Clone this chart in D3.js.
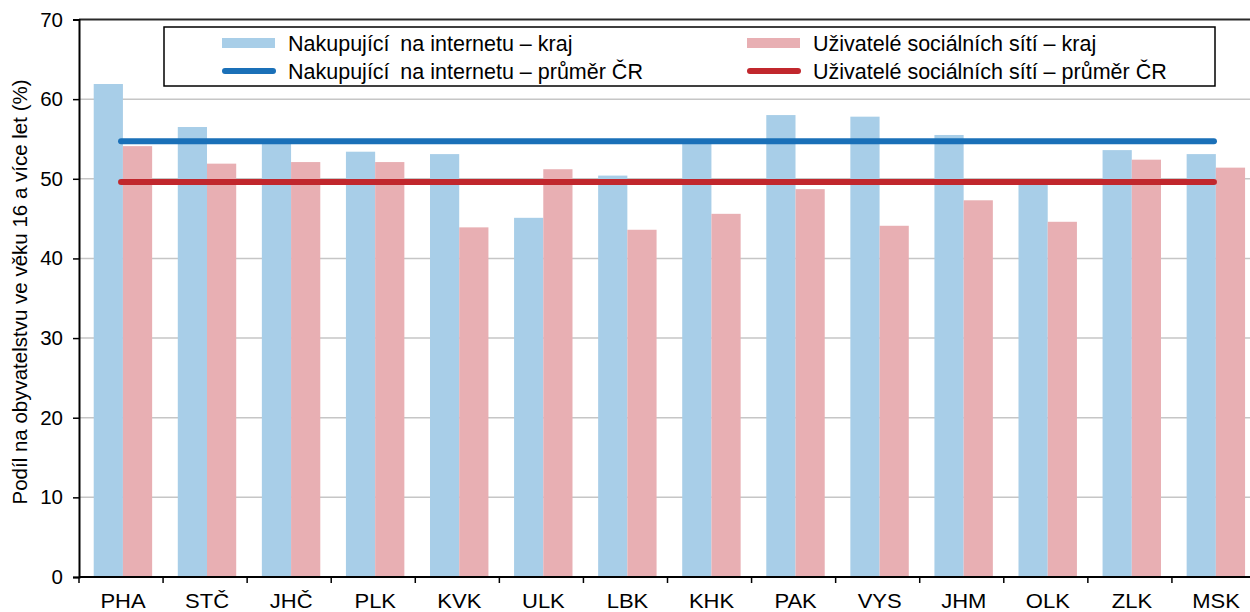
<!DOCTYPE html>
<html>
<head>
<meta charset="utf-8">
<script src="https://cdn.jsdelivr.net/npm/d3@7"></script>
<style>
  html, body { margin: 0; padding: 0; background: #fff; }
  svg { display: block; font-family: "Liberation Sans", Arial, sans-serif; }
</style>
</head>
<body>
<div id="chart"></div>
<script>
// regions (kraje) and values
var regions = ["PHA", "STČ", "JHČ", "PLK", "KVK", "ULK", "LBK", "KHK", "PAK", "VYS", "JHM", "OLK", "ZLK", "MSK"];
var shoppers = [61.9, 56.5, 54.5, 53.4, 53.1, 45.1, 50.4, 54.6, 58.0, 57.8, 55.5, 49.7, 53.6, 53.1];
var socialUsers = [54.1, 51.9, 52.1, 52.1, 43.9, 51.2, 43.6, 45.6, 48.7, 44.1, 47.3, 44.6, 52.4, 51.4];
var shoppersAvg = 54.7;
var socialAvg = 49.6;
var yTicks = [0, 10, 20, 30, 40, 50, 60, 70];
var seriesNames = ["Nakupující\u2002na internetu – kraj", "Uživatelé sociálních sítí – kraj"];
var avgNames = ["Nakupující\u2002na internetu – průměr ČR", "Uživatelé sociálních sítí – průměr ČR"];
var yTitle = "Podíl na obyvatelstvu ve věku 16 a více let (%)";

var width = 1250, height = 612;
var margin = {top: 19.5, left: 79, bottom: 35};
var plotRight = 1256; // the plot runs a little past the picture's right edge

var blueBar = "#a8cee8", pinkBar = "#e8afb3";
var blueLine = "#1a70b8", redLine = "#c1272d";

var svg = d3.select("#chart")
  .append("svg")
  .attr("width", width)
  .attr("height", height);

var x = d3.scaleBand()
  .domain(regions)
  .range([margin.left, plotRight])
  .padding(0);

// two bars per region, nudged slightly left inside the band like the original
var xSeries = d3.scaleBand()
  .domain([0, 1])
  .range([x.bandwidth() * 0.175, x.bandwidth() * 0.87]);

var y = d3.scaleLinear()
  .domain([0, 70])
  .range([height - margin.bottom, margin.top]);

// gridlines
svg.append("g")
  .selectAll("line")
  .data(yTicks.filter(function (d) { return d > 0; }))
  .enter()
  .append("line")
  .attr("x1", margin.left)
  .attr("x2", width)
  .attr("y1", function (d) { return y(d); })
  .attr("y2", function (d) { return y(d); })
  .attr("stroke", function (d) { return d === 70 ? "#2a2a2a" : "#c6c6c6"; })
  .attr("stroke-width", function (d) { return d === 70 ? 2 : 1.5; });

// bars
var groups = svg.append("g")
  .selectAll("g")
  .data(regions)
  .enter()
  .append("g")
  .attr("transform", function (d) { return "translate(" + x(d) + ",0)"; });

groups.append("rect")
  .attr("x", xSeries(0))
  .attr("width", xSeries.bandwidth())
  .attr("y", function (d, i) { return y(shoppers[i]); })
  .attr("height", function (d, i) { return y(0) - y(shoppers[i]); })
  .attr("fill", blueBar);

groups.append("rect")
  .attr("x", xSeries(1))
  .attr("width", xSeries.bandwidth())
  .attr("y", function (d, i) { return y(socialUsers[i]); })
  .attr("height", function (d, i) { return y(0) - y(socialUsers[i]); })
  .attr("fill", pinkBar);

// average lines, from the first region centre to the last
var firstC = x(regions[0]) + x.bandwidth() / 2;
var lastC = x(regions[regions.length - 1]) + x.bandwidth() / 2;

[[shoppersAvg, blueLine], [socialAvg, redLine]].forEach(function (a) {
  svg.append("line")
    .attr("x1", firstC)
    .attr("x2", lastC)
    .attr("y1", y(a[0]))
    .attr("y2", y(a[0]))
    .attr("stroke", a[1])
    .attr("stroke-width", 6)
    .attr("stroke-linecap", "round");
});

// y axis
var yAxis = svg.append("g")
  .attr("transform", "translate(" + margin.left + ",0)")
  .call(d3.axisLeft(y).tickValues(yTicks).tickSize(6).tickPadding(10));
yAxis.select(".domain").attr("stroke", "#000").attr("stroke-width", 2);
yAxis.selectAll(".tick line").attr("stroke", "#000").attr("stroke-width", 1.5);
yAxis.selectAll(".tick text")
  .attr("font-size", 20.5)
  .attr("fill", "#000")
  .style("font-family", "Liberation Sans, Arial, sans-serif");

// x axis, ticks on band boundaries
var xAxis = svg.append("g")
  .attr("transform", "translate(0," + y(0) + ")");
xAxis.append("line")
  .attr("x1", margin.left)
  .attr("x2", plotRight)
  .attr("stroke", "#000")
  .attr("stroke-width", 2);
xAxis.selectAll(".xtick")
  .data(regions)
  .enter()
  .append("line")
  .attr("class", "xtick")
  .attr("x1", function (d) { return x(d); })
  .attr("x2", function (d) { return x(d); })
  .attr("y1", 0)
  .attr("y2", 6)
  .attr("stroke", "#000")
  .attr("stroke-width", 1.5);
// labels are a bit wider than plain Arial in the original
xAxis.selectAll(".xlabel")
  .data(regions)
  .enter()
  .append("text")
  .attr("class", "xlabel")
  .attr("transform", function (d) {
    return "translate(" + (x(d) + x.bandwidth() / 2 + 2) + ",30.5) scale(1.1,1)";
  })
  .attr("text-anchor", "middle")
  .attr("font-size", 20)
  .attr("fill", "#000")
  .text(function (d) { return d; });

// y axis title
svg.append("text")
  .attr("transform", "translate(27," + 292 + ") rotate(-90)")
  .attr("text-anchor", "middle")
  .attr("font-size", 20.5)
  .attr("fill", "#000")
  .text(yTitle);

// legend
var legend = svg.append("g");
legend.append("rect")
  .attr("x", 164)
  .attr("y", 27)
  .attr("width", 1051)
  .attr("height", 59)
  .attr("fill", "#fff")
  .attr("stroke", "#000")
  .attr("stroke-width", 1.5);

var cols = [222, 747];
var barColors = [blueBar, pinkBar];
var lineColors = [blueLine, redLine];

cols.forEach(function (cx, i) {
  legend.append("rect")
    .attr("x", cx)
    .attr("y", 38)
    .attr("width", 53)
    .attr("height", 10)
    .attr("fill", barColors[i]);
  legend.append("text")
    .attr("x", cx + 66)
    .attr("y", 43)
    .attr("dy", "0.35em")
    .attr("font-size", 21.5)
    .attr("fill", "#000")
    .text(seriesNames[i]);

  legend.append("line")
    .attr("x1", cx + 3)
    .attr("x2", cx + 51)
    .attr("y1", 71)
    .attr("y2", 71)
    .attr("stroke", lineColors[i])
    .attr("stroke-width", 6)
    .attr("stroke-linecap", "round");
  legend.append("text")
    .attr("x", cx + 66)
    .attr("y", 71)
    .attr("dy", "0.35em")
    .attr("font-size", 21.5)
    .attr("fill", "#000")
    .text(avgNames[i]);
});
</script>
</body>
</html>
